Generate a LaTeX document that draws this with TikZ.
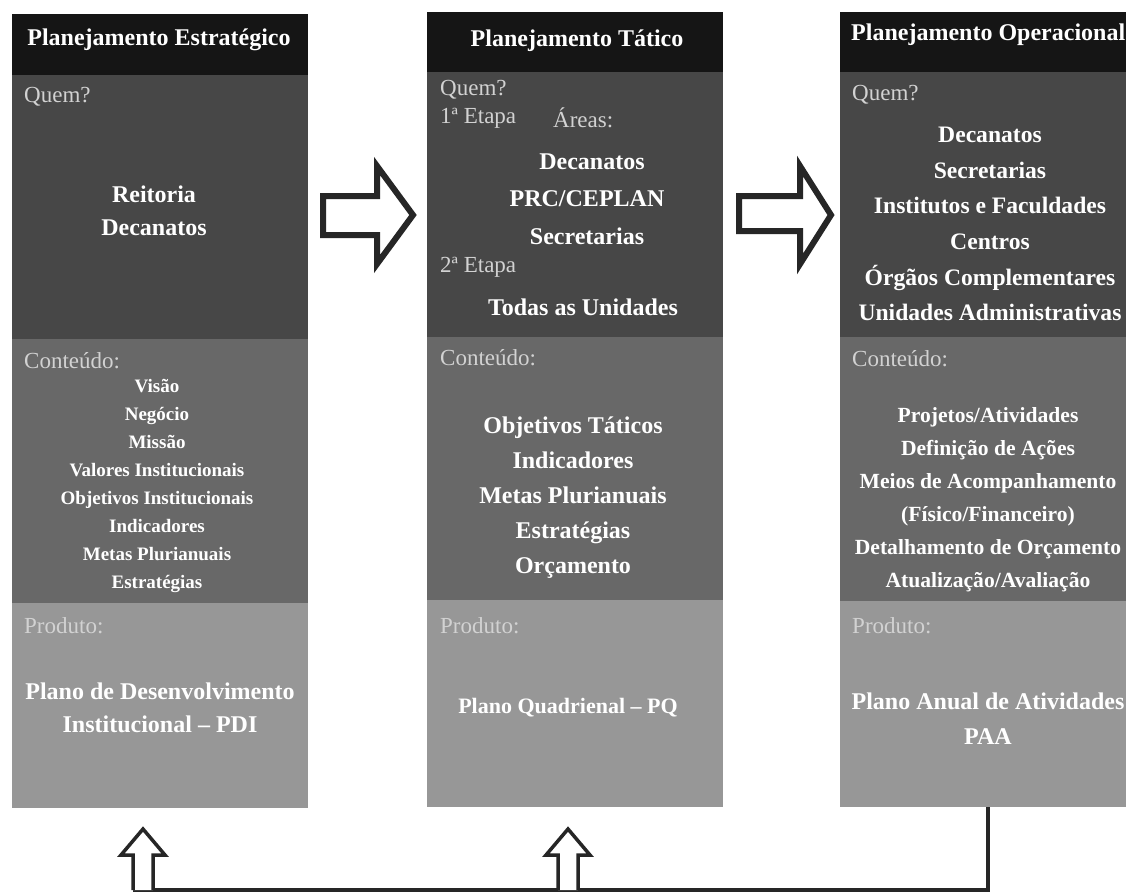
\documentclass[tikz,border=0pt]{standalone}
\usepackage{fontspec}
\setmainfont{Liberation Serif}
\definecolor{hdr}{HTML}{151515}
\definecolor{quem}{HTML}{474747}
\definecolor{cont}{HTML}{686868}
\definecolor{prod}{HTML}{979797}
\definecolor{labgray}{HTML}{D2D2D2}
\definecolor{arrowc}{HTML}{262626}
\tikzset{
  sec/.style={rectangle, draw=none, inner sep=0pt, outer sep=0pt, anchor=north west, fill=#1, minimum width=296},
  lab/.style={text=labgray, anchor=west, inner sep=0pt, font=\fontsize{23}{27}\selectfont},
  hd/.style={text=white, inner sep=0pt, font=\bfseries\fontsize{24}{28}\selectfont},
  big/.style={text=white, inner sep=0pt, align=center, font=\bfseries\fontsize{24}{33}\selectfont},
  bigb/.style={text=white, inner sep=0pt, align=center, font=\bfseries\fontsize{24}{35.6}\selectfont},
  small/.style={text=white, inner sep=0pt, align=center, font=\bfseries\fontsize{19}{28.1}\selectfont},
  hollow/.style={draw=arrowc, fill=white, line width=6pt, line join=miter},
  hollowup/.style={draw=arrowc, fill=white, line width=3.5pt, line join=miter},
  loopline/.style={draw=arrowc, line width=4pt}
}
\begin{document}
\begin{tikzpicture}[x=1pt,y=-1pt]
\useasboundingbox (0,0) rectangle (1126,895);
\fill[white] (0,0) rectangle (1126,895);
\clip (0,0) rectangle (1126,895);

% column 1
\node[sec=hdr,  minimum height=61]  (h1) at (12,14) {};
\node[sec=quem, minimum height=264] (q1) at (12,75) {};
\node[sec=cont, minimum height=264] (c1) at (12,339) {};
\node[sec=prod, minimum height=205] (p1) at (12,603) {};
% column 2
\node[sec=hdr,  minimum height=60]  (h2) at (427,12) {};
\node[sec=quem, minimum height=265] (q2) at (427,72) {};
\node[sec=cont, minimum height=263] (c2) at (427,337) {};
\node[sec=prod, minimum height=207] (p2) at (427,600) {};
% column 3
\node[sec=hdr,  minimum height=60]  (h3) at (840,12) {};
\node[sec=quem, minimum height=265] (q3) at (840,72) {};
\node[sec=cont, minimum height=264] (c3) at (840,337) {};
\node[sec=prod, minimum height=206] (p3) at (840,601) {};

% column 1 texts
\node[hd] (t1h) at (159,40) {Planejamento Estratégico};
\node[lab] (t1q) at (24,97) {Quem?};
\node[big] (t1qq) at (154,211) {Reitoria\\Decanatos};
\node[lab] (t1c) at (24,361) {Conteúdo:};
\node[small] (t1cc) at (157,486) {Visão\\Negócio\\Missão\\Valores Institucionais\\Objetivos Institucionais\\Indicadores\\Metas Plurianuais\\Estratégias};
\node[lab] (t1p) at (24,626) {Produto:};
\node[big] (t1pp) at (160,708) {Plano de Desenvolvimento\\Institucional – PDI};

% column 2 texts
\node[hd] (t2h) at (577,41) {Planejamento Tático};
\node[lab] (t2q) at (440,90) {Quem?};
\node[lab] (t2e1) at (440,118) {1ª Etapa};
\node[lab] (t2ar) at (553,118) {Áreas:};
\node[big] (t2d) at (592,162) {Decanatos};
\node[big] (t2p) at (587,199) {PRC/CEPLAN};
\node[big] (t2s) at (587,236) {Secretarias};
\node[lab] (t2e2) at (440,267) {2ª Etapa};
\node[big] (t2t) at (583,307) {Todas as Unidades};
\node[lab] (t2c) at (440,358) {Conteúdo:};
\node[font=\bfseries\fontsize{24}{35}\selectfont, text=white, align=center, inner sep=0pt] (t2cc) at (573,498) {Objetivos Táticos\\Indicadores\\Metas Plurianuais\\Estratégias\\Orçamento};
\node[lab] (t2pl) at (440,626) {Produto:};
\node[text=white, inner sep=0pt, font=\bfseries\fontsize{22}{26}\selectfont] (t2pp) at (568,708) {Plano Quadrienal – PQ};

% column 3 texts
\node[hd, anchor=west] (t3h) at (851,35) {Planejamento Operacional};
\node[lab] (t3q) at (852,95) {Quem?};
\node[bigb, font=\bfseries\fontsize{23.6}{35.6}\selectfont] (t3qq) at (990,224) {Decanatos\\Secretarias\\Institutos e Faculdades\\Centros\\Órgãos Complementares\\Unidades Administrativas};
\node[lab] (t3c) at (852,359) {Conteúdo:};
\node[text=white, inner sep=0pt, align=center, font=\bfseries\fontsize{21.6}{33}\selectfont] (t3cc) at (988,500) {Projetos/Atividades\\Definição de Ações\\Meios de Acompanhamento\\(Físico/Financeiro)\\Detalhamento de Orçamento\\Atualização/Avaliação};
\node[lab] (t3pl) at (852,626) {Produto:};
\node[text=white, inner sep=0pt, align=center, font=\bfseries\fontsize{24}{35}\selectfont] (t3pp) at (988,719) {Plano Anual de Atividades\\PAA};

% right arrows between columns
\draw[hollow] (323,196) -- (377,196) -- (377,166) -- (413,215) -- (377,264) -- (377,235) -- (323,235) -- cycle;
\draw[hollow] (739,196) -- (800,196) -- (800,166) -- (831,215) -- (800,264) -- (800,231) -- (739,231) -- cycle;

% feedback connector
\coordinate (fbL) at (133,890);
\draw[loopline] (p3.south) |- (fbL);
\draw[hollowup] (133,890) -- (133,855) -- (121,855) -- (143,829) -- (165,855) -- (153,855) -- (153,890);
\draw[hollowup] (558,890) -- (558,855) -- (546,855) -- (568,829) -- (590,855) -- (578,855) -- (578,890);
\end{tikzpicture}
\end{document}
